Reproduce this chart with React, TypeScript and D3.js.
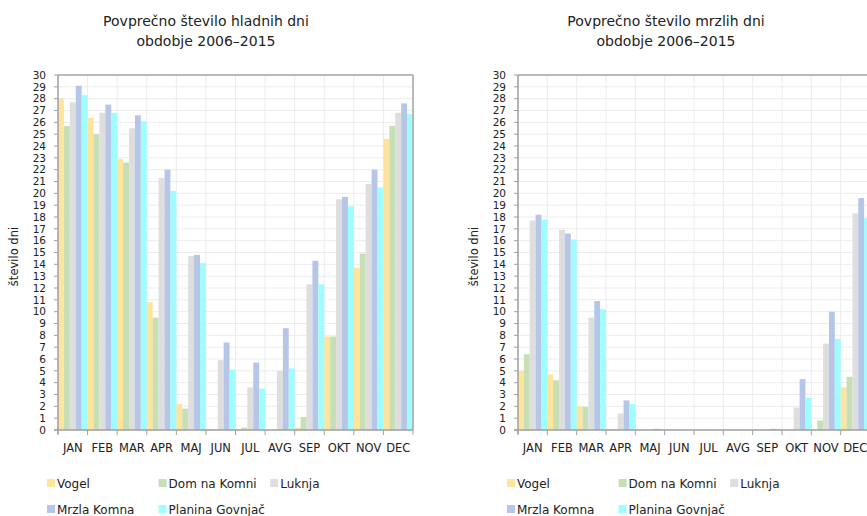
import React from "react";
import * as d3 from "d3";

const months = ["JAN", "FEB", "MAR", "APR", "MAJ", "JUN", "JUL", "AVG", "SEP", "OKT", "NOV", "DEC"];
const stations = ["Vogel", "Dom na Komni", "Luknja", "Mrzla Komna", "Planina Govnjač"];
const colors = ["#ffe49c", "#c6dfb4", "#dedede", "#b5c6e8", "#9ffcff"];
const yTicks = d3.range(0, 31);

// Average number of cold days (Tmin < 0 °C)
const hladniVogel = [28.0, 26.4, 22.9, 10.8, 2.2, 0.1, 0, 0, 0.2, 7.9, 13.7, 24.6];
const hladniDom = [25.7, 25.0, 22.6, 9.5, 1.8, 0, 0.2, 0, 1.1, 7.9, 14.9, 25.7];
const hladniLuknja = [27.7, 26.8, 25.5, 21.3, 14.7, 5.9, 3.6, 5.0, 12.3, 19.5, 20.8, 26.8];
const hladniMrzla = [29.1, 27.5, 26.6, 22.0, 14.8, 7.4, 5.7, 8.6, 14.3, 19.7, 22.0, 27.6];
const hladniPlanina = [28.3, 26.8, 26.1, 20.2, 14.1, 5.1, 3.5, 5.2, 12.3, 18.9, 20.5, 26.7];

// Average number of frost days (Tmax < 0 °C)
const mrzliVogel = [5.0, 4.7, 2.0, 0.1, 0, 0, 0, 0, 0, 0, 0, 3.6];
const mrzliDom = [6.4, 4.2, 1.95, 0, 0, 0, 0, 0, 0, 0, 0.8, 4.5];
const mrzliLuknja = [17.7, 16.9, 9.5, 1.4, 0, 0, 0, 0, 0, 1.9, 7.3, 18.3];
const mrzliMrzla = [18.2, 16.6, 10.9, 2.5, 0.1, 0, 0, 0, 0.1, 4.3, 10.0, 19.6];
const mrzliPlanina = [17.8, 16.1, 10.2, 2.2, 0.1, 0, 0, 0, 0.1, 2.7, 7.7, 17.9];

const FONT = "'DejaVu Sans', Verdana, sans-serif";

type PanelProps = {
  ox: number;
  plotW: number;
  title1: string;
  title2: string;
  series: number[][];
};

function Panel({ ox, plotW, title1, title2, series }: PanelProps) {
  const top = 75;
  const bottom = 430;
  const x0 = ox;
  const x = d3.scaleBand<string>().domain(months).range([x0, x0 + plotW]).padding(0);
  const xs = d3.scaleBand<string>().domain(stations).range([0, x.bandwidth()]).padding(0);
  const y = d3.scaleLinear().domain([0, 30]).range([bottom, top]);
  const boundaries = months.map((m) => x(m) as number).concat([x0 + plotW]);
  const titleX = ox + 148;

  return (
    <g>
      <text x={titleX} y={26} textAnchor="middle" fontSize={14} fill="#222" fontFamily={FONT}>
        {title1}
      </text>
      <text x={titleX} y={46} textAnchor="middle" fontSize={14} fill="#222" fontFamily={FONT}>
        {title2}
      </text>

      {/* grid */}
      {yTicks.map((t) => (
        <line key={"h" + t} x1={x0} x2={x0 + plotW} y1={y(t)} y2={y(t)} stroke="#ececec" strokeWidth={1} />
      ))}
      {boundaries.map((b, i) => (
        <line key={"v" + i} x1={b} x2={b} y1={top} y2={bottom} stroke="#ececec" strokeWidth={1} />
      ))}

      {/* bars */}
      {series.map((vals, si) =>
        vals.map((v, mi) => (
          <rect
            key={si + "-" + mi}
            x={(x(months[mi]) as number) + (xs(stations[si]) as number)}
            y={y(v)}
            width={xs.bandwidth()}
            height={bottom - y(v)}
            fill={colors[si]}
          />
        ))
      )}

      {/* frame */}
      <line x1={x0} x2={x0 + plotW} y1={top} y2={top} stroke="#a6a6a6" strokeWidth={1.5} />
      <line x1={x0 + plotW} x2={x0 + plotW} y1={top} y2={bottom} stroke="#a6a6a6" strokeWidth={1.5} />
      <line x1={x0} x2={x0} y1={top} y2={bottom + 4} stroke="#a0a0a0" strokeWidth={1.5} />
      <line x1={x0 - 4} x2={x0 + plotW} y1={bottom} y2={bottom} stroke="#a0a0a0" strokeWidth={1.5} />

      {/* y axis */}
      {yTicks.map((t) => (
        <g key={"yt" + t}>
          <line x1={x0 - 4} x2={x0} y1={y(t)} y2={y(t)} stroke="#a0a0a0" strokeWidth={1} />
          <text
            x={x0 - 12}
            y={y(t) + 3.8}
            textAnchor="end"
            fontSize={10.5}
            fill="#222"
            fontFamily={FONT}
          >
            {t}
          </text>
        </g>
      ))}
      <text
        transform={`translate(${x0 - 40},${(top + bottom) / 2 + 4}) rotate(-90)`}
        textAnchor="middle"
        fontSize={11.5}
        fill="#222"
        fontFamily={FONT}
      >
        število dni
      </text>

      {/* x axis */}
      {boundaries.map((b, i) => (
        <line key={"xt" + i} x1={b} x2={b} y1={bottom} y2={bottom + 5} stroke="#a0a0a0" strokeWidth={1} />
      ))}
      {months.map((m) => (
        <text
          key={"xl" + m}
          x={(x(m) as number) + x.bandwidth() / 2}
          y={452}
          textAnchor="middle"
          fontSize={11.5}
          fill="#222"
          fontFamily={FONT}
        >
          {m}
        </text>
      ))}

      {/* legend */}
      {stations.map((s, i) => {
        const col = i < 3 ? i : i - 3;
        const row = i < 3 ? 0 : 1;
        const lx = ox - 11 + col * 111.6;
        const ly = 483 + row * 26;
        return (
          <g key={"lg" + s}>
            <rect x={lx} y={ly - 4} width={8} height={8} fill={colors[i]} />
            <text x={lx + 10} y={ly + 4.5} fontSize={12} fill="#222" fontFamily={FONT}>
              {s}
            </text>
          </g>
        );
      })}
    </g>
  );
}

export default function App() {
  const hladni = [hladniVogel, hladniDom, hladniLuknja, hladniMrzla, hladniPlanina];
  const mrzli = [mrzliVogel, mrzliDom, mrzliLuknja, mrzliMrzla, mrzliPlanina];
  return (
    <svg
      width={867}
      height={516}
      style={{ position: "fixed", left: 0, top: 0, background: "#fff" }}
    >
      <rect width={867} height={516} fill="#fff" />
      <Panel
        ox={58}
        plotW={355}
        title1="Povprečno število hladnih dni"
        title2="obdobje 2006–2015"
        series={hladni}
      />
      <Panel
        ox={518}
        plotW={352}
        title1="Povprečno število mrzlih dni"
        title2="obdobje 2006–2015"
        series={mrzli}
      />
    </svg>
  );
}
